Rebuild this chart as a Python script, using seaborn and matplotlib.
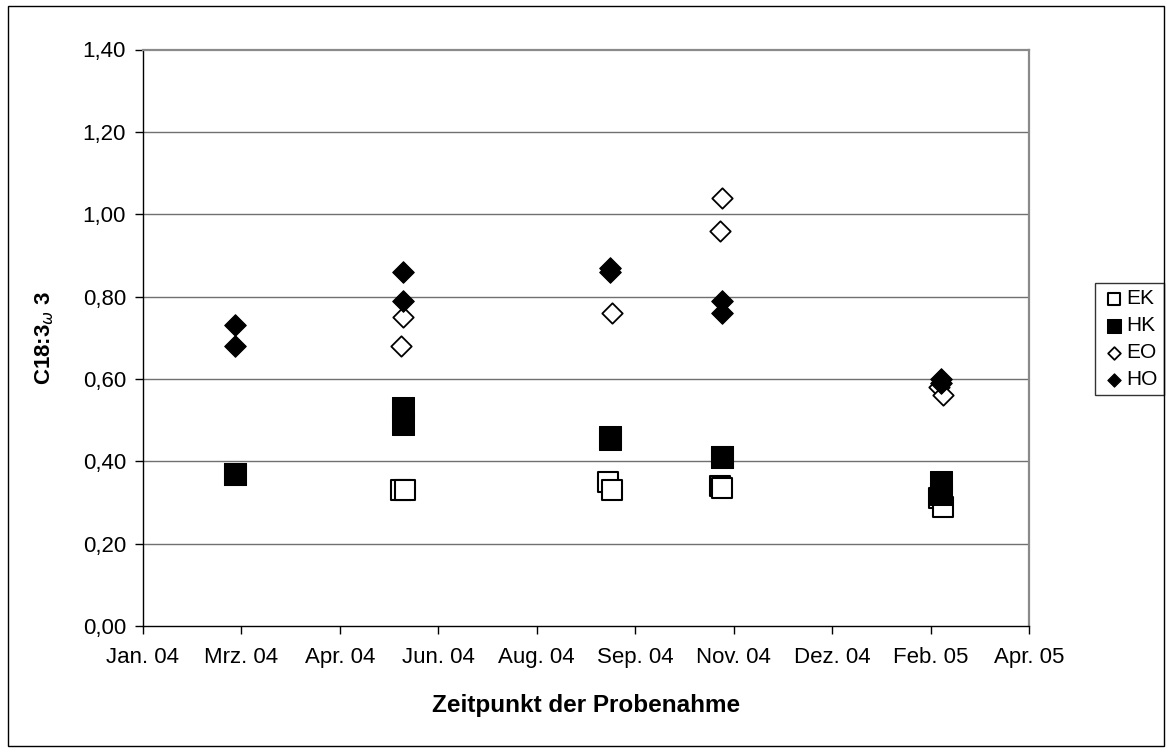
import matplotlib
matplotlib.use("Agg")
import matplotlib.pyplot as plt
import matplotlib.patches as mpatches
import pandas as pd
import seaborn as sns

# ---------------- data ----------------
series_names = ["EK", "HK", "EO", "HO"]

ek_dates = ["2004-05-24", "2004-05-26", "2004-09-06", "2004-09-08",
            "2004-11-02", "2004-11-03", "2005-02-21", "2005-02-23"]
ek_values = [0.33, 0.33, 0.35, 0.33, 0.34, 0.335, 0.31, 0.29]

hk_dates = ["2004-03-01", "2004-03-01", "2004-05-25", "2004-05-25",
            "2004-09-07", "2004-09-07", "2004-11-03", "2004-11-03",
            "2005-02-22", "2005-02-22"]
hk_values = [0.37, 0.37, 0.53, 0.49, 0.46, 0.455, 0.41, 0.41, 0.35, 0.32]

eo_dates = ["2004-05-25", "2004-05-24", "2004-09-08", "2004-11-03",
            "2004-11-02", "2005-02-21", "2005-02-23"]
eo_values = [0.75, 0.68, 0.76, 1.04, 0.96, 0.58, 0.56]

ho_dates = ["2004-03-01", "2004-03-01", "2004-05-25", "2004-05-25",
            "2004-09-07", "2004-09-07", "2004-11-03", "2004-11-03",
            "2005-02-22", "2005-02-22"]
ho_values = [0.73, 0.68, 0.86, 0.79, 0.87, 0.86, 0.79, 0.76, 0.60, 0.59]

x_axis_start = "2004-01-14"
x_tick_step_days = 50
x_tick_labels = ["Jan. 04", "Mrz. 04", "Apr. 04", "Jun. 04", "Aug. 04",
                 "Sep. 04", "Nov. 04", "Dez. 04", "Feb. 05", "Apr. 05"]
y_ticks = [0.0, 0.2, 0.4, 0.6, 0.8, 1.0, 1.2, 1.4]
y_tick_labels = ["0,00", "0,20", "0,40", "0,60", "0,80", "1,00", "1,20", "1,40"]

x_label = "Zeitpunkt der Probenahme"
y_label = "C18:3$_{\\omega}$ 3"

# ---------------- style ----------------
sns.set_theme(style="white")
plt.rcParams["font.family"] = ["Liberation Sans", "DejaVu Sans"]
plt.rcParams["mathtext.fontset"] = "dejavusans"
plt.rcParams["text.color"] = "black"
plt.rcParams["axes.labelcolor"] = "black"
plt.rcParams["xtick.color"] = "black"
plt.rcParams["ytick.color"] = "black"

W, H = 1166, 751
fig = plt.figure(figsize=(W / 100, H / 100), dpi=100)
fig.patch.set_facecolor("white")

ax_l, ax_r, ax_t, ax_b = 142.7, 1029.3, 49.5, 626.0
ax = fig.add_axes([ax_l / W, 1 - ax_b / H, (ax_r - ax_l) / W, (ax_b - ax_t) / H])

styles = {
    "EK": dict(marker="s", s=205, color="white", edgecolor="black", linewidth=1.5),
    "HK": dict(marker="s", s=256, color="black", edgecolor="black", linewidth=0.75),
    "EO": dict(marker="D", s=108, color="white", edgecolor="black", linewidth=1.3),
    "HO": dict(marker="D", s=121, color="black", edgecolor="black", linewidth=0.75),
}
data = {
    "EK": (ek_dates, ek_values),
    "HK": (hk_dates, hk_values),
    "EO": (eo_dates, eo_values),
    "HO": (ho_dates, ho_values),
}

for name in series_names:
    d, v = data[name]
    df = pd.DataFrame({"date": pd.to_datetime(d), "value": v})
    sns.scatterplot(data=df, x="date", y="value", ax=ax, label=name,
                    zorder=3, legend=True, **styles[name])

start = pd.Timestamp(x_axis_start)
tick_dates = [start + pd.Timedelta(days=i * x_tick_step_days)
              for i in range(len(x_tick_labels))]
ax.set_xlim(tick_dates[0], tick_dates[-1])
ax.set_xticks(tick_dates)
ax.set_xticklabels(x_tick_labels)
ax.set_ylim(y_ticks[0], y_ticks[-1])
ax.set_yticks(y_ticks)
ax.set_yticklabels(y_tick_labels)

ax.tick_params(axis="both", which="major", direction="out", length=6,
               width=1, color="black", labelsize=16, labelcolor="black")
ax.tick_params(axis="y", pad=6)
ax.tick_params(axis="x", pad=9)
ax.xaxis.set_ticks_position("bottom")
ax.yaxis.set_ticks_position("left")

ax.grid(False)
for yv in y_ticks[1:-1]:
    ax.axhline(yv, color="#707070", lw=1.0, zorder=1)

for sp in ["left", "bottom"]:
    ax.spines[sp].set_color("black")
    ax.spines[sp].set_linewidth(1.0)
for sp in ["top", "right"]:
    ax.spines[sp].set_color("#8a8a8a")
    ax.spines[sp].set_linewidth(1.6)

ax.set_xlabel(x_label, fontsize=17.5, fontweight="bold", labelpad=19,
              color="black")
ax.set_ylabel(y_label, fontsize=16, fontweight="bold", color="black")
ax.yaxis.set_label_coords((56 - ax_l) / (ax_r - ax_l), 0.5)

leg = ax.legend(loc="upper left", bbox_to_anchor=(1095 / W, 1 - 283 / H),
                bbox_transform=fig.transFigure, borderaxespad=0,
                frameon=True, fancybox=False, fontsize=15, markerscale=0.62,
                handletextpad=0.0, labelspacing=0.38, borderpad=0.3,
                handlelength=1.2)
leg.get_frame().set_edgecolor("black")
leg.get_frame().set_linewidth(1.0)
for t in leg.get_texts():
    t.set_color("black")

border = mpatches.Rectangle((8 / W, 1 - 746 / H), 1156 / W, 740 / H,
                            transform=fig.transFigure, fill=False,
                            edgecolor="black", linewidth=1.0)
fig.patches.append(border)

fig.savefig("out.png", dpi=100, facecolor="white")
